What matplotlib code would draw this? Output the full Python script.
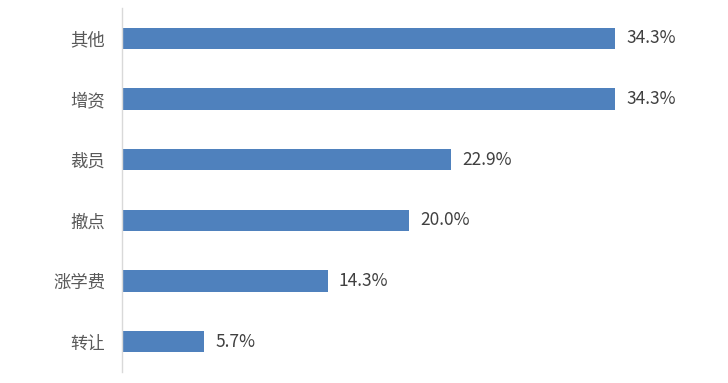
import matplotlib
matplotlib.use("Agg")
import matplotlib.pyplot as plt

plt.rcParams['font.family'] = ['Noto Sans CJK SC', 'DejaVu Sans']

categories = ["其他", "增资", "裁员", "撤点", "涨学费", "转让"]
values = [34.3, 34.3, 22.9, 20.0, 14.3, 5.7]
labels = ["34.3%", "34.3%", "22.9%", "20.0%", "14.3%", "5.7%"]

fig = plt.figure(figsize=(7.28, 3.83), dpi=100)
ax = fig.add_axes([122 / 728, 1 - 372 / 383, (700 - 122) / 728, 364 / 383])

pos = range(len(categories))
bars = ax.barh(pos, values, height=0.35, color="#4F81BD")
for b, lab in zip(bars, labels):
    ax.annotate(lab, (b.get_width(), b.get_y() + b.get_height() / 2),
                xytext=(8, 0), textcoords="offset points",
                va="center", ha="left", fontsize=12.5, color="#404040")

ax.set_yticks(list(pos))
ax.set_yticklabels(categories, fontsize=12.5, color="#595959")
ax.set_ylim(5.5, -0.5)
ax.set_xlim(0, (700 - 122) / (493 / 34.3))
ax.set_xticks([])
ax.tick_params(axis="y", length=0, pad=12)
for s in ["top", "right", "bottom"]:
    ax.spines[s].set_visible(False)
ax.spines["left"].set_color("#D9D9D9")
ax.spines["left"].set_linewidth(1)

fig.savefig("out.png", dpi=100)
